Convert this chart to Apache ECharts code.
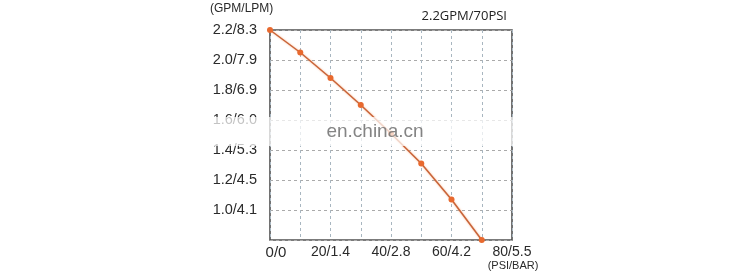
<!DOCTYPE html>
<html>
<head>
<meta charset="utf-8">
<script src="https://cdn.jsdelivr.net/npm/echarts@6/dist/echarts.min.js"></script>
<style>html,body{margin:0;padding:0;background:#fff;}#c{width:750px;height:278px;}</style>
</head>
<body>
<div id="c"></div>
<script>
// Data
var pressurePSI = [0, 10, 20, 30, 40, 50, 60, 70];
var flowGPM = [2.2, 2.05, 1.88, 1.70, 1.51, 1.31, 1.07, 0.80];
var xTickValues = [0, 20, 40, 60, 80];
var xTickLabels = ['0/0', '20/1.4', '40/2.8', '60/4.2', '80/5.5'];
var yTickValues = [2.2, 2.0, 1.8, 1.6, 1.4, 1.2, 1.0];
var yTickLabels = ['2.2/8.3', '2.0/7.9', '1.8/6.9', '1.6/6.0', '1.4/5.3', '1.2/4.5', '1.0/4.1'];
var chartTitle = '2.2GPM/70PSI';
var yUnit = '(GPM/LPM)';
var xUnit = '(PSI/BAR)';
var watermark = 'en.china.cn';

var chart = echarts.init(document.getElementById('c'), null, {renderer: 'canvas'});
var font = '"Liberation Sans", Arial, sans-serif';

function xLabel(v) {
  var i = xTickValues.indexOf(Math.round(v));
  if (i < 0) return '';
  return i === 0 ? '{first|' + xTickLabels[i] + '}' : xTickLabels[i];
}
function yLabel(v) {
  var r = Math.round(v * 10) / 10;
  for (var i = 0; i < yTickValues.length; i++) {
    if (Math.abs(yTickValues[i] - r) < 1e-6) return yTickLabels[i];
  }
  return '';
}

chart.setOption({
  animation: false,
  backgroundColor: '#fff',
  title: {
    text: chartTitle,
    right: 238,
    top: 5,
    textStyle: {fontFamily: '"Open Sans", sans-serif', fontSize: 13, fontWeight: 'normal', color: '#222'}
  },
  grid: {
    left: 270, top: 30, width: 242, height: 210,
    show: true, borderColor: '#505050', borderWidth: 1.6, backgroundColor: 'transparent'
  },
  xAxis: {
    type: 'value', min: 0, max: 80, interval: 10,
    axisLine: {show: false}, axisTick: {show: false},
    axisLabel: {
      formatter: xLabel, color: '#2a2a2a', fontSize: 14, fontFamily: font, margin: 5,
      showMaxLabel: true, showMinLabel: true,
      rich: {first: {fontSize: 15, fontFamily: font, color: '#2a2a2a', padding: [0, 0, 0, 12]}}
    },
    splitLine: {show: true, lineStyle: {color: '#a8b6c0', type: [3, 3], width: 1}}
  },
  yAxis: {
    type: 'value', min: 0.8, max: 2.2, interval: 0.2,
    axisLine: {show: false}, axisTick: {show: false},
    axisLabel: {formatter: yLabel, color: '#2a2a2a', fontSize: 14.5, fontFamily: font, margin: 13},
    splitLine: {show: true, lineStyle: {color: '#aaaaaa', type: [3, 3], width: 1}}
  },
  series: [{
    type: 'line',
    data: pressurePSI.map(function (p, i) { return [p, flowGPM[i]]; }),
    symbol: 'circle', symbolSize: 6,
    itemStyle: {color: '#e8692e'},
    lineStyle: {color: '#c8643a', width: 1.5, shadowColor: 'rgba(245,150,90,0.7)', shadowBlur: 2},
    z: 5
  }],
  graphic: [
    {type: 'text', left: 210, top: 3, style: {text: yUnit, fontSize: 12, fontFamily: font, fill: '#2a2a2a'}},
    {type: 'text', x: 513, y: 260, style: {text: xUnit, fontSize: 11, fontFamily: font, fill: '#2a2a2a', textAlign: 'center'}},
    {type: 'rect', shape: {x: 205, y: 117, width: 320, height: 29}, style: {fill: 'rgba(255,255,255,0.72)'}, z: 100},
    {type: 'text', x: 375, y: 132, style: {text: watermark, fontSize: 19, fontFamily: font, fill: 'rgba(110,110,110,0.85)', textAlign: 'center', textVerticalAlign: 'middle'}, z: 101}
  ]
});
</script>
</body>
</html>
